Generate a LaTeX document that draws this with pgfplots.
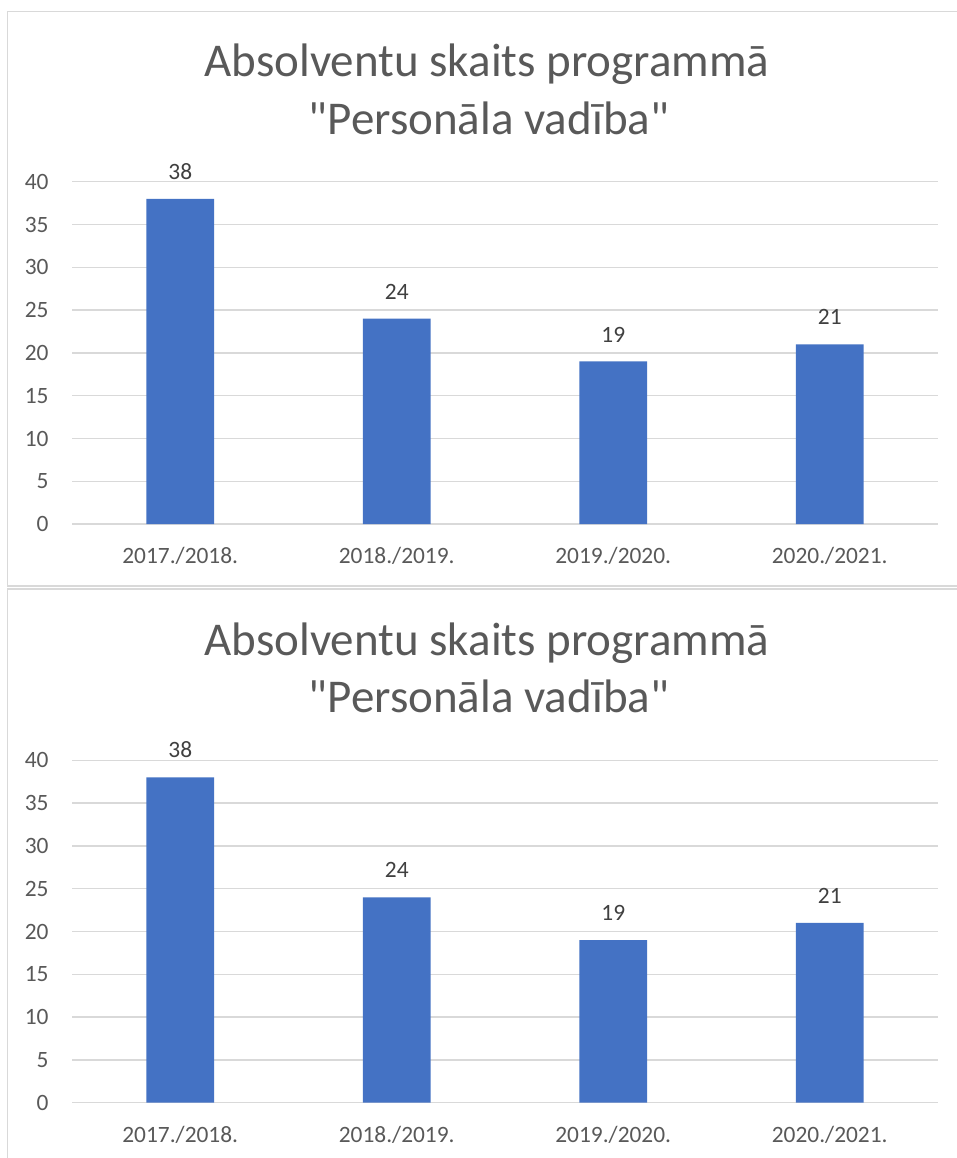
\documentclass[border=0pt]{standalone}
\usepackage{pgfplots}
\pgfplotsset{compat=1.18}
\usepackage{fontspec}
\setmainfont{Carlito}
\newfontfamily\titlefont{Carlito}
\definecolor{barblue}{HTML}{4472C4}
\definecolor{gridgray}{HTML}{D9D9D9}
\definecolor{txtgray}{HTML}{595959}
\definecolor{lblgray}{HTML}{404040}
\pgfplotsset{
  mychart/.style={
    scale only axis,
    width=433pt, height=171.2pt,
    ymin=0, ymax=40, ytick={0,5,...,40},
    xmin=-0.5, xmax=3.5, xtick={0,1,2,3},
    xticklabels={2017./2018.,2018./2019.,2019./2020.,2020./2021.},
    axis line style={draw=none},
    major tick length=0pt,
    ymajorgrids, grid style={gridgray, line width=0.75pt},
    /pgf/number format/assume math mode=true,
    ticklabel style={font=\fontsize{11.7}{14}\selectfont, text=txtgray},
    yticklabel style={anchor=east, inner sep=0pt, xshift=-11.5pt},
    xticklabel style={anchor=north, inner sep=0pt, yshift=-11.5pt},
    ybar, bar width=33.8pt,
    nodes near coords,
    every node near coord/.append style={font=\fontsize{11.7}{14}\selectfont, text=lblgray, anchor=south, inner sep=0pt, yshift=9.5pt},
  }
}
\begin{document}
\begin{tikzpicture}
\useasboundingbox (0,0) rectangle (478.5pt,-579pt);
\fill[white] (0,0) rectangle (478.5pt,-579pt);
% frames
\draw[gridgray, line width=0.75pt] (478.5pt,-5.75pt) -- (3.75pt,-5.75pt) -- (3.75pt,-293.1pt) -- (478.5pt,-293.1pt);
\draw[gridgray, line width=0.75pt] (478.5pt,-294.4pt) -- (3.75pt,-294.4pt) -- (3.75pt,-579pt);
% top chart
\node[anchor=base, text=txtgray, font=\titlefont\fontsize{23.5}{28}\selectfont] at (243.5pt,-38.35pt) {Absolventu skaits programmā};
\node[anchor=base, text=txtgray, font=\titlefont\fontsize{23.5}{28}\selectfont] at (244.5pt,-67pt) {"Personāla vadība"};
\begin{axis}[mychart, at={(36pt,-262.05pt)}, anchor=south west]
\addplot[fill=barblue, draw=none] coordinates {(0,38) (1,24) (2,19) (3,21)};
\end{axis}
% bottom chart
\node[anchor=base, text=txtgray, font=\titlefont\fontsize{23.5}{28}\selectfont] at (243.5pt,-327.65pt) {Absolventu skaits programmā};
\node[anchor=base, text=txtgray, font=\titlefont\fontsize{23.5}{28}\selectfont] at (244.5pt,-356.3pt) {"Personāla vadība"};
\begin{axis}[mychart, at={(36pt,-551.35pt)}, anchor=south west]
\addplot[fill=barblue, draw=none] coordinates {(0,38) (1,24) (2,19) (3,21)};
\end{axis}
\end{tikzpicture}
\end{document}
